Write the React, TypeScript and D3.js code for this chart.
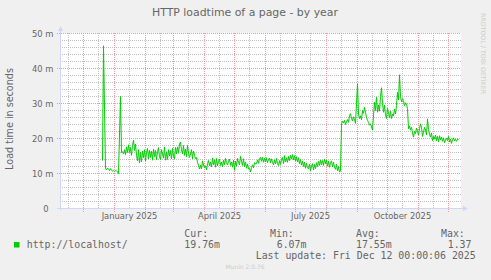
import React from 'react';
import * as d3 from 'd3';

const TITLE = 'HTTP loadtime of a page - by year';
const Y_LABEL = 'Load time in seconds';
const WATERMARK = 'RRDTOOL / TOBI OETIKER';
const FOOTER = 'Munin 2.0.76';
const SERIES_NAME = 'http://localhost/';
const LAST_UPDATE = 'Last update: Fri Dec 12 00:00:06 2025';

const Y_TICKS = [0, 10, 20, 30, 40, 50];
const Y_TICK_LABELS = ['0', '10 m', '20 m', '30 m', '40 m', '50 m'];
const X_LABELS = [
  { date: Date.UTC(2025, 0, 16), text: 'January 2025' },
  { date: Date.UTC(2025, 3, 16), text: 'April 2025' },
  { date: Date.UTC(2025, 6, 16), text: 'July 2025' },
  { date: Date.UTC(2025, 9, 16), text: 'October 2025' },
];

const LEGEND_HEADS = ['Cur:', 'Min:', 'Avg:', 'Max:'];
const LEGEND_VALUES = ['19.76m', '6.07m', '17.55m', '1.37'];

// daily averages, milliseconds
const blockDec = { start: Date.UTC(2024, 11, 20), values: [
  13.7, 46.5, 29.0, 11.5, 11.0, 11.6, 11.2, 10.8, 11.4, 10.9,
  10.7, 10.9, 10.6, 10.8, 10.7, 10.5, 10.0, 21.0, 32.0, 16.0,
] };
const blockJan = { start: Date.UTC(2025, 0, 9), values: [
  16.2, 15.6, 16.8, 15.4, 17.6, 16.0, 18.2, 16.0, 17.4, 15.2,
  18.0, 19.5, 16.6, 18.4, 15.2, 13.6, 16.8, 13.0, 16.0, 13.4, 16.4,
] };
const blockFebMar = { start: Date.UTC(2025, 0, 30), values: [
  14.5, 16.8, 13.6, 15.9, 17.2, 14.2, 16.6, 14.6, 16.4, 13.8,
  17.0, 14.8, 16.6, 13.9, 16.2, 17.4, 14.8, 14.0, 16.8, 15.6,
  14.4, 17.6, 13.8, 16.2, 14.0, 16.8, 15.0, 16.6, 14.2, 17.2,
  15.0, 14.2, 17.4, 15.6, 17.6, 15.8, 18.4, 19.0, 16.8, 15.6,
  18.0, 15.2, 17.0, 14.8, 18.0, 15.8, 14.6, 15.6, 16.8, 14.2,
  16.4, 15.2, 14.2, 14.6, 13.2, 12.4, 11.3,
] };
const blockAprJul = { start: Date.UTC(2025, 2, 28), values: [
  12.4, 11.3, 13.6, 12.4, 11.6, 12.2, 11.0, 12.8, 13.7, 12.2,
  13.3, 11.9, 14.4, 12.5, 13.9, 11.8, 14.3, 12.2, 13.5, 14.1,
  12.3, 13.3, 11.9, 13.8, 12.5, 14.3, 13.1, 12.4, 13.5, 14.1,
  12.3, 13.3, 11.8, 13.8, 10.9, 13.5, 12.1, 14.3, 13.2, 12.5,
  14.9, 13.5, 12.3, 14.2, 12.0, 13.3, 11.5, 12.7, 11.3, 11.5,
  10.5, 11.7, 12.5, 11.6, 13.1, 12.7, 12.8, 13.9, 12.9, 14.3,
  14.6, 13.5, 14.7, 13.2, 14.3, 13.3, 14.5, 13.1, 14.1, 14.4,
  13.0, 14.2, 13.2, 12.5, 13.9, 12.7, 14.3, 12.9, 12.3, 13.7,
  12.6, 14.1, 14.6, 12.8, 15.1, 13.3, 14.5, 13.2, 14.9, 13.7,
  15.2, 14.1, 15.4, 13.9, 15.1, 13.6, 14.8, 13.3, 14.5, 12.8,
] };
const blockJulAug = { start: Date.UTC(2025, 6, 6), values: [
  14.0, 12.4, 13.5, 12.0, 13.2, 11.5, 12.9, 11.7, 11.3, 12.7,
  10.8, 12.1, 12.8, 11.0, 12.6, 11.4, 13.1, 12.0, 13.5, 12.3,
  13.8, 12.5, 13.7, 12.3, 14.1, 12.8, 13.9, 12.1, 13.5, 11.8,
  13.1, 13.6, 11.9, 13.2, 11.8, 11.2, 12.6, 10.8, 12.0, 10.4, 10.8,
] };
const blockAutumn = { start: Date.UTC(2025, 7, 16), values: [
  24.2, 25.0, 24.4, 25.2, 24.0, 24.8, 25.4, 24.6, 26.6, 27.1,
  25.8, 25.0, 26.2, 25.4, 24.3, 30.0, 35.6, 27.0, 25.7, 26.5,
  25.4, 28.0, 27.2, 28.9, 27.5, 26.0, 25.2, 24.6, 23.8, 24.2,
  23.3, 22.4, 26.5, 30.4, 28.0, 31.8, 27.5, 29.6, 27.8, 32.0,
  34.5, 30.0, 27.5, 29.5, 26.8, 25.7, 28.6, 27.2, 26.0, 27.8,
  25.7, 27.0, 26.4, 28.4, 27.0, 29.5, 33.2, 31.0, 38.2, 32.0,
  30.5, 31.4, 30.8, 29.4, 30.2, 29.8, 28.5, 22.8, 23.6, 22.4,
  23.2, 21.6, 20.4, 22.0, 21.4, 23.0, 22.2, 21.0, 22.8, 24.2,
  23.0, 20.6, 21.8, 23.2, 22.4, 21.0, 25.6, 22.6, 21.2, 20.4,
  21.6, 19.4, 20.6, 19.8, 21.0, 19.4, 20.6, 19.0, 20.8, 19.6,
  20.4, 19.2, 20.2, 18.8, 19.6, 20.0, 19.4, 20.6, 19.0, 19.8,
  18.6, 19.6, 20.2, 19.3, 19.8, 19.2, 19.8, 19.76,
] };

const BLOCKS = [blockDec, blockJan, blockFebMar, blockAprJul, blockJulAug, blockAutumn];

const DAY = 86400000;
const points = BLOCKS.flatMap((b) => b.values.map((v, i) => ({ t: b.start + i * DAY, v })));

const W = 491;
const H = 280;
const T0 = Date.UTC(2024, 10, 7);
const T1 = Date.UTC(2025, 11, 12);

export default function App() {
  const x = d3.scaleUtc().domain([T0, T1]).range([59.5, 459.5]);
  const y = d3.scaleLinear().domain([0, 50]).range([208.5, 33.5]);
  const left = 60;
  const right = 461;
  const top = 33;
  const bottom = 208.5;

  const months = d3.utcMonth.range(new Date(T0), new Date(T1));
  const majorX = months.map((m) => x(m)).filter((v) => v > left && v < right);
  const minorX = months
    .map((m) => x(d3.utcDay.offset(m, 15)))
    .concat([x(d3.utcDay.offset(d3.utcMonth.floor(new Date(T0)), 15))])
    .filter((v) => v > left && v < right);
  const minorY = d3.range(0, 51, 2).filter((v) => v % 10 !== 0);

  const line = d3
    .line<{ t: number; v: number }>()
    .x((d) => x(d.t))
    .y((d) => y(d.v));

  const gridMinor = '#C2C2C2';
  const gridMajor = '#EE9A9A';
  const axisColor = '#CFD6F8';
  const font = 'DejaVu Sans';
  const mono = 'DejaVu Sans Mono';
  const textColor = '#666666';

  const colX = [184.3, 270, 356, 441];
  const valX = [184.3, 276.7, 356, 447.7];

  return (
    <svg
      width={W}
      height={H}
      style={{ position: 'absolute', left: 0, top: 0, display: 'block' }}
      xmlns="http://www.w3.org/2000/svg"
    >
      <rect x={0} y={0} width={W} height={H} fill="#F0F0F0" />
      <rect x={left} y={top} width={right - left} height={bottom - top + 0.5} fill="#FFFFFF" />

      {/* minor grid */}
      {minorY.map((v) => (
        <line key={'my' + v} x1={left} x2={right} y1={y(v)} y2={y(v)} stroke={gridMinor} strokeDasharray="1,1" shapeRendering="crispEdges" />
      ))}
      {minorX.map((v, i) => (
        <line key={'mx' + i} x1={v} x2={v} y1={top} y2={bottom} stroke={gridMinor} strokeDasharray="1,1" shapeRendering="crispEdges" />
      ))}
      {/* major grid */}
      {Y_TICKS.filter((v) => v > 0).map((v) => (
        <line key={'My' + v} x1={left - 3} x2={right} y1={y(v)} y2={y(v)} stroke={gridMajor} strokeDasharray="1,1" shapeRendering="crispEdges" />
      ))}
      {majorX.map((v, i) => (
        <line key={'Mx' + i} x1={v} x2={v} y1={top} y2={bottom + 3} stroke={gridMajor} strokeDasharray="1,1" shapeRendering="crispEdges" />
      ))}

      {/* data line */}
      <path d={line(points) || ''} fill="none" stroke="#00CC00" strokeWidth={1} />

      {/* axes */}
      <line x1={left + 0.5} x2={left + 0.5} y1={bottom + 2} y2={29} stroke={axisColor} strokeWidth={1} />
      <path d={`M${left - 2},${31} L${left + 0.5},${26} L${left + 3},${31} Z`} fill={axisColor} />
      <line x1={left - 3} x2={464} y1={bottom} y2={bottom} stroke={axisColor} strokeWidth={1} />
      <path d={`M${463},${bottom - 2.5} L${468},${bottom} L${463},${bottom + 2.5} Z`} fill={axisColor} />

      {/* y tick labels */}
      {Y_TICKS.map((v, i) => (
        <text
          key={'yl' + v}
          x={v === 0 ? 48.5 : 53.5}
          y={y(v) + 3}
          textAnchor="end"
          fontFamily={font}
          fontSize={8.4}
          fill={textColor}
        >
          {Y_TICK_LABELS[i]}
        </text>
      ))}

      {/* x labels */}
      {X_LABELS.map((l) => (
        <text key={l.text} x={x(l.date)} y={219} textAnchor="middle" fontFamily={font} fontSize={8.4} fill={textColor}>
          {l.text}
        </text>
      ))}

      {/* title */}
      <text x={245} y={16} textAnchor="middle" fontFamily={font} fontSize={10.9} fill={textColor}>
        {TITLE}
      </text>

      {/* y axis title */}
      <text
        transform={`translate(12.5,119) rotate(-90)`}
        textAnchor="middle"
        fontFamily={font}
        fontSize={9.6}
        fill={textColor}
      >
        {Y_LABEL}
      </text>

      {/* watermark */}
      <text
        transform={`translate(480.5,53.5) rotate(90)`}
        textAnchor="middle"
        fontFamily={font}
        fontSize={6.3}
        fill="#CCCCCC"
      >
        {WATERMARK}
      </text>

      {/* legend */}
      <rect x={14} y={242} width={5.5} height={5.5} fill="#00CC00" />
      <text x={26.7} y={247.5} fontFamily={mono} fontSize={9.9} fill={textColor}>
        {SERIES_NAME}
      </text>
      {LEGEND_HEADS.map((h, i) => (
        <text key={h} x={colX[i]} y={237} fontFamily={mono} fontSize={9.9} fill={textColor}>
          {h}
        </text>
      ))}
      {LEGEND_VALUES.map((v, i) => (
        <text key={'v' + i} x={valX[i]} y={247.5} fontFamily={mono} fontSize={9.9} fill={textColor}>
          {v}
        </text>
      ))}
      <text x={255.7} y={259} fontFamily={mono} fontSize={9.9} fill={textColor}>
        {LAST_UPDATE}
      </text>
      <text x={245} y={269} textAnchor="middle" fontFamily={font} fontSize={6} fill="#CCCCCC">
        {FOOTER}
      </text>
    </svg>
  );
}
